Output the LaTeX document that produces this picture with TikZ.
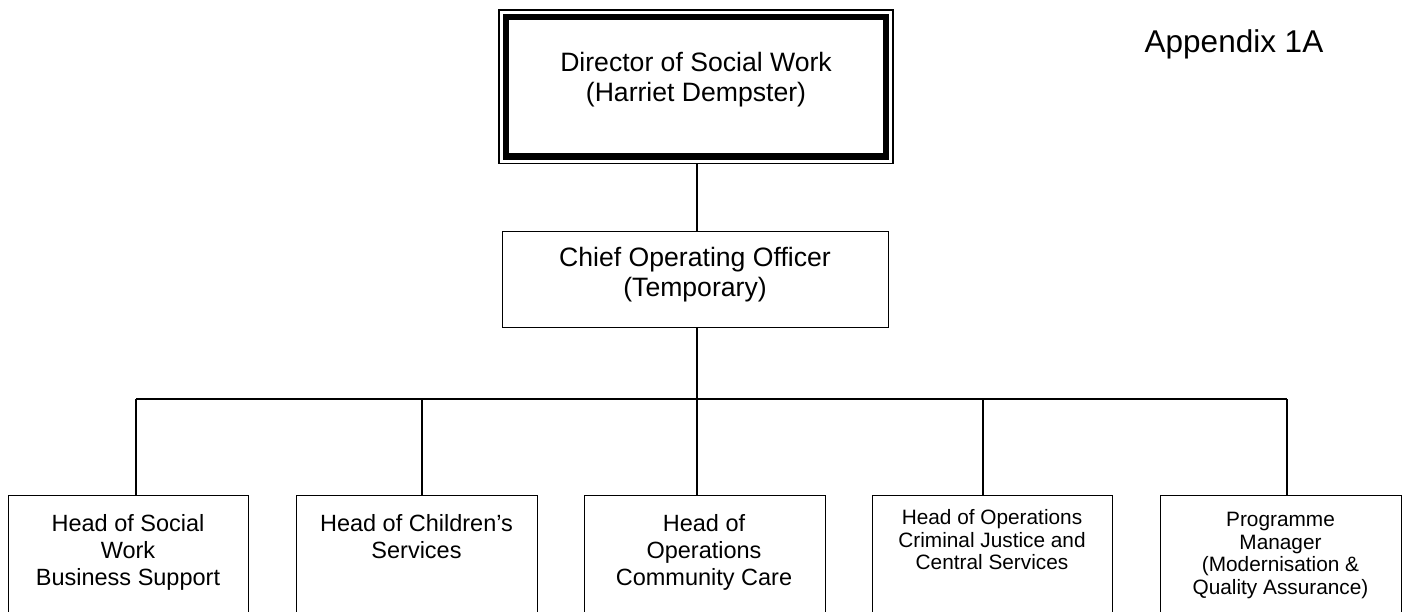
\documentclass[tikz,border=0pt]{standalone}
\usepackage{fontspec}
\setmainfont{Liberation Sans}
\begin{document}
\begin{tikzpicture}[x=1pt,y=-1pt,
  thinbox/.style={draw, line width=1.3pt, inner sep=0pt, anchor=north west},
  lbl/.style={inner sep=0pt, align=center, anchor=north},
  bigtxt/.style={font=\fontsize{26.6}{30}\selectfont},
  midtxt/.style={font=\fontsize{23.5}{26.8}\selectfont},
  smltxt/.style={font=\fontsize{20.8}{22.6}\selectfont},
  wire/.style={line width=1.3pt}]
\useasboundingbox (0,0) rectangle (1408,611);
\clip (0,0) rectangle (1408,611);
% director box (double border)
\node[draw, line width=1.3pt, inner sep=0pt, minimum width=394pt, minimum height=153.5pt] (dirout) at (696,86.75) {};
\node[draw, line width=6.8pt, inner sep=0pt, minimum width=380pt, minimum height=139.5pt] (dir) at (696,86.75) {};
\node[lbl, bigtxt] (dirtxt) at (696,52.5) {Director of Social Work\\(Harriet Dempster)};
% chief operating officer
\node[thinbox, minimum width=386pt, minimum height=96pt] (chief) at (502,231) {};
\node[lbl, bigtxt] (chieftxt) at (695,247.5) {Chief Operating Officer\\(Temporary)};
% appendix
\node[inner sep=0pt, anchor=base, font=\fontsize{31.5}{34}\selectfont] (app) at (1234,52) {Appendix 1A};
% bottom boxes
\node[thinbox, minimum width=240pt, minimum height=140pt] (b1) at (8,495) {};
\node[thinbox, minimum width=241pt, minimum height=140pt] (b2) at (296,495) {};
\node[thinbox, minimum width=241pt, minimum height=140pt] (b3) at (584,495) {};
\node[thinbox, minimum width=240pt, minimum height=140pt] (b4) at (872,495) {};
\node[thinbox, minimum width=241pt, minimum height=140pt] (b5) at (1160,495) {};
\node[lbl, midtxt] (t1) at (128,514.5) {Head of Social\\Work\\Business Support};
\node[lbl, midtxt] (t2) at (416.5,514.5) {Head of Children’s\\Services};
\node[lbl, midtxt] (t3) at (704,514.5) {Head of\\Operations\\Community Care};
\node[lbl, smltxt] (t4) at (992,509.5) {Head of Operations\\Criminal Justice and\\Central Services};
\node[lbl, smltxt] (t5) at (1280.5,512) {Programme\\Manager\\(Modernisation \&\\Quality Assurance)};
% connectors
\coordinate (j) at (697,399);
\coordinate (d1) at (136,399);
\coordinate (d2) at (422,399);
\coordinate (d4) at (983,399);
\coordinate (d5) at (1287,399);
\draw[wire] (dirout.south -| j) -- (j |- chief.north);
\draw[wire] (j |- chief.south) -- (j);
\draw[wire] (d1) -- (d5);
\draw[wire] (d1) -- (d1 |- b1.north);
\draw[wire] (d2) -- (d2 |- b2.north);
\draw[wire] (j) -- (j |- b3.north);
\draw[wire] (d4) -- (d4 |- b4.north);
\draw[wire] (d5) -- (d5 |- b5.north);
\end{tikzpicture}
\end{document}
